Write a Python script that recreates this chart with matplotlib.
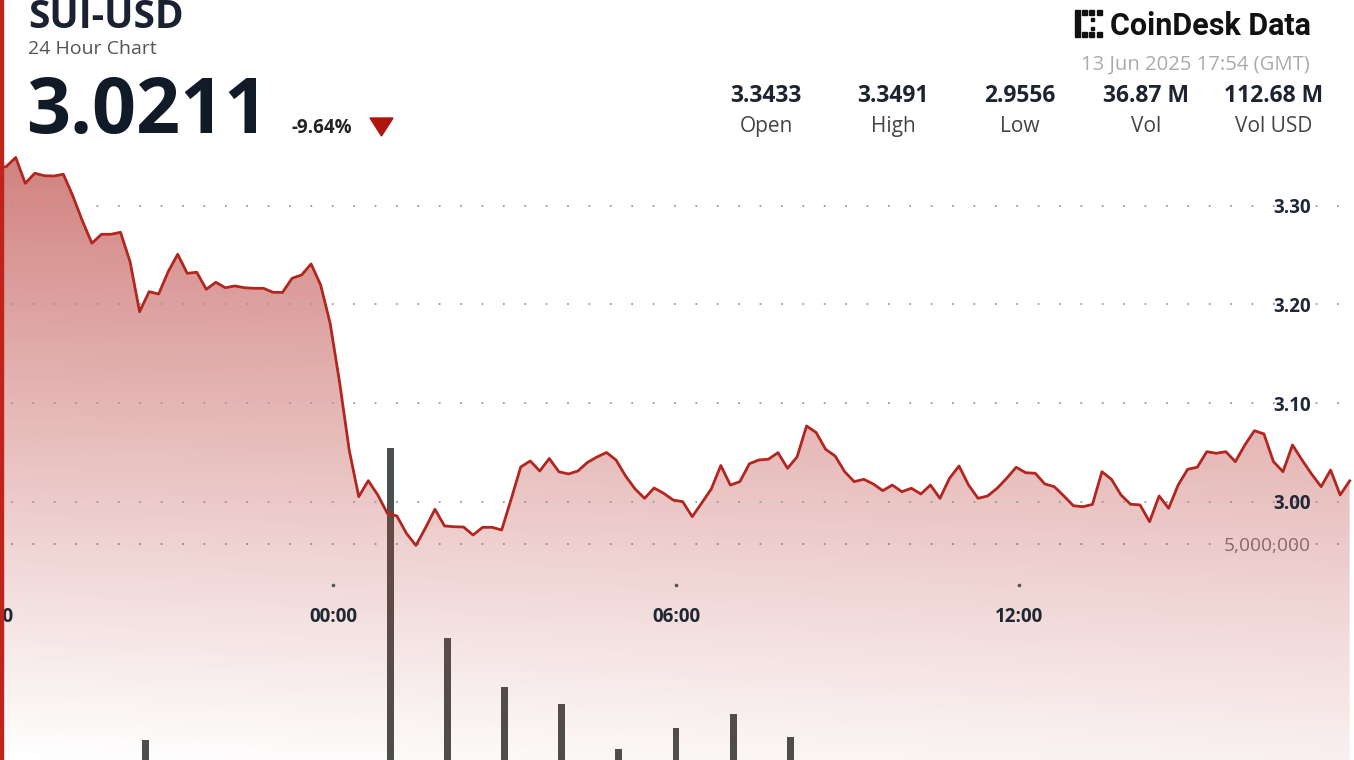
import numpy as np
import pandas as pd
import matplotlib
matplotlib.use("Agg")
import matplotlib.pyplot as plt
import matplotlib.transforms as mtransforms
from matplotlib.patches import Rectangle, Polygon
from matplotlib.ticker import FuncFormatter

W, H = 1354, 760

# header numbers
symbol = "SUI-USD"
subtitle = "24 Hour Chart"
last_price = "3.0211"
change_pct = "-9.64%"
stamp = "13 Jun 2025 17:54 (GMT)"
stat_values = ["3.3433", "3.3491", "2.9556", "36.87 M", "112.68 M"]
stat_names = ["Open", "High", "Low", "Vol", "Vol USD"]

# 10 minute closes, first one at 18:07 on 12 Jun
price_start = "2025-06-12 18:07"
prices = [
    3.3384, 3.3398, 3.3491, 3.3229, 3.3331, 3.3306, 3.3303, 3.3321, 3.3100, 3.2847,
    3.2621, 3.2712, 3.2712, 3.2732, 3.2434, 3.1927, 3.2130, 3.2106, 3.2333, 3.2509,
    3.2316, 3.2327, 3.2154, 3.2225, 3.2170, 3.2188, 3.2170, 3.2164, 3.2164, 3.2124,
    3.2122, 3.2266, 3.2299, 3.2411, 3.2198, 3.1809, 3.1204, 3.0524, 3.0051, 3.0213,
    3.0068, 2.9882, 2.9855, 2.9680, 2.9556, 2.9733, 2.9923, 2.9754, 2.9746, 2.9743,
    2.9662, 2.9740, 2.9740, 2.9713, 3.0027, 3.0352, 3.0413, 3.0311, 3.0438, 3.0304,
    3.0281, 3.0311, 3.0398, 3.0453, 3.0499, 3.0423, 3.0261, 3.0129, 3.0034, 3.0139,
    3.0085, 3.0017, 3.0000, 2.9848, 2.9987, 3.0129, 3.0367, 3.0169, 3.0203, 3.0385,
    3.0423, 3.0431, 3.0497, 3.0339, 3.0453, 3.0768, 3.0702, 3.0531, 3.0463, 3.0304,
    3.0203, 3.0227, 3.0180, 3.0112, 3.0169, 3.0101, 3.0136, 3.0078, 3.0169, 3.0034,
    3.0237, 3.0362, 3.0169, 3.0034, 3.0058, 3.0136, 3.0237, 3.0349, 3.0294, 3.0288,
    3.0180, 3.0152, 3.0058, 2.9959, 2.9949, 2.9972, 3.0304, 3.0227, 3.0068, 2.9974,
    2.9967, 2.9797, 3.0058, 2.9933, 3.0169, 3.0329, 3.0349, 3.0507, 3.0491, 3.0507,
    3.0406, 3.0575, 3.0720, 3.0687, 3.0406, 3.0304, 3.0575, 3.0423, 3.0281, 3.0152,
    3.0321, 3.0068, 3.0211,
]

# volume bars that reach into the visible area
vol_times = ["2025-06-12 20:43", "2025-06-13 01:00", "2025-06-13 02:00",
             "2025-06-13 03:00", "2025-06-13 04:00", "2025-06-13 05:00",
             "2025-06-13 06:00", "2025-06-13 07:00", "2025-06-13 08:00"]
vol_values = [2.25e6, 6.35e6, 3.68e6, 2.99e6, 2.76e6, 2.12e6, 2.42e6, 2.61e6, 2.29e6]

price_ticks = [3.00, 3.10, 3.20, 3.30]
vol_ticks = [5_000_000]
time_ticks = ["2025-06-12 18:00", "2025-06-13 00:00",
              "2025-06-13 06:00", "2025-06-13 12:00"]

midnight = pd.Timestamp("2025-06-13 00:00")


def to_hours(stamps):
    return np.asarray((pd.DatetimeIndex(stamps) - midnight) / pd.Timedelta(hours=1))


hours = to_hours(pd.date_range(price_start, periods=len(prices), freq="10min"))
vol_hours = to_hours(vol_times)
tick_hours = to_hours(time_ticks)
tick_labels = [pd.Timestamp(s).strftime("%H:%M") for s in time_ticks]

plt.rcParams['font.family'] = ['Open Sans', 'DejaVu Sans']
plt.rcParams['lines.scale_dashes'] = False

fig = plt.figure(figsize=(W / 100, H / 100), dpi=100)
fig.patch.set_facecolor('white')

# volume axis first, price axis drawn over it
axv = fig.add_axes([0, 0, 1, 1])
ax = fig.add_axes([0, 0, 1, 1], sharex=axv)
ax.patch.set_visible(False)

xlim = (-5.825, 17.859)
plim = (2.7380, 3.5088)
vlim = (1.968e6, 12.651e6)

dots = (7.5, (1.3, 14.1))

# volume
axv.bar(vol_hours, vol_values, width=0.12, color='#4a4f4b', zorder=2)
axv.set_ylim(*vlim)
axv.yaxis.tick_right()
axv.set_yticks(vol_ticks)
axv.yaxis.set_major_formatter(FuncFormatter(lambda v, p: f"{v:,.0f}"))
axv.tick_params(axis='y', length=0, pad=-31, labelsize=13.8, labelcolor='#7a7a7a')
for lab in axv.get_yticklabels():
    lab.set_ha('right')
axv.grid(axis='y', color='#9a9a9a', linewidth=1.3, linestyle=dots)
axv.grid(axis='x', visible=False)
axv.tick_params(axis='x', length=0, labelbottom=False)
for s in axv.spines.values():
    s.set_visible(False)

# price fill with vertical gradient
fill = ax.fill_between(hours, prices, plim[0], facecolor='none', edgecolor='none')
rows = np.arange(H)[:, None]
cols = np.linspace(0, 1, W)[None, :]
t = np.clip((rows - 155) / (H - 155), 0, 1)
rgba = np.zeros((H, W, 4))
rgba[..., 0] = 183 / 255
rgba[..., 1] = 58 / 255
rgba[..., 2] = 54 / 255
rgba[..., 3] = 0.64 * (1 - t) ** 1.05 + 0.08 * cols * t
img = ax.imshow(rgba, extent=(xlim[0], xlim[1], plim[0], plim[1]),
                origin='upper', aspect='auto', zorder=1, interpolation='bilinear')
img.set_clip_path(fill.get_paths()[0], transform=ax.transData)

ax.plot(hours, prices, color='#b1261f', linewidth=2.0, zorder=3,
        solid_joinstyle='round')

ax.yaxis.tick_right()
ax.set_yticks(price_ticks)
ax.yaxis.set_major_formatter(FuncFormatter(lambda v, p: f"{v:.2f}"))
ax.tick_params(axis='y', length=0, pad=-31, labelsize=13.5, labelcolor='#20283a')
for lab in ax.get_yticklabels():
    lab.set_ha('right')
    lab.set_fontweight('bold')
ax.grid(axis='y', color='#9a9a9a', linewidth=1.3, linestyle=dots, zorder=1.5)

# time labels sit inside the plot; the 18:00 one hangs off the left edge
ax.tick_params(axis='x', length=0, labelbottom=False)
blend = mtransforms.blended_transform_factory(ax.transData, ax.transAxes)
ax.plot(tick_hours, [1 - 585 / H] * len(tick_hours), linestyle='none', marker='o',
        markersize=1.6, color='#555555', transform=blend, zorder=2)
for h, lab in zip(tick_hours, tick_labels):
    ax.text(h, 1 - 617 / H, lab, transform=blend, ha='center', va='center',
            fontsize=13.5, fontweight='bold', color='#1e2833', clip_on=False)
for s in ax.spines.values():
    s.set_visible(False)

ax.set_xlim(*xlim)
ax.set_ylim(*plim)


def fx(x):
    return x / W


def fy(y):
    return 1 - y / H


# header
fig.text(fx(28), fy(28), symbol, fontsize=28, fontweight='bold', color='#1a2232')
fig.text(fx(28), fy(54), subtitle, fontsize=14, color='#555555')
fig.text(fx(26), fy(133), last_price, fontsize=55.5, fontweight='bold', color='#111a27')
fig.text(fx(292), fy(133), change_pct, fontsize=13.5, fontweight='bold', color='#222222')
fig.add_artist(Polygon([(fx(370), fy(118)), (fx(393), fy(118)), (fx(381.5), fy(136))],
                       closed=True, transform=fig.transFigure, color='#b0150d'))

# logo
fig.text(fx(1311), fy(35), "CoinDesk Data", fontsize=22, fontweight='bold',
         family='Roboto', color='#111111', ha='right')
logo = [(1075, 10, 5, 27), (1082, 10, 5, 5), (1089, 10, 5, 5), (1097, 10, 5, 5),
        (1082, 32, 5, 5), (1089, 32, 5, 5), (1097, 32, 5, 5),
        (1091, 18, 3, 3), (1091, 27, 3, 3)]
for (x, y, w, h) in logo:
    fig.add_artist(Rectangle((fx(x), fy(y + h)), w / W, h / H,
                             transform=fig.transFigure, color='#111111'))
fig.text(fx(1310), fy(70), stamp, fontsize=14.6, color='#ababab', ha='right')

stat_x = [766, 893, 1020, 1146, 1274]
for x, v, n in zip(stat_x, stat_values, stat_names):
    fig.text(fx(x), fy(102), v, fontsize=16.5, fontweight='bold', color='#1d2430', ha='center')
    fig.text(fx(x), fy(132), n, fontsize=15, color='#444444', ha='center')

# red left edge
fig.add_artist(Rectangle((0, 0), 2.5 / W, 1, transform=fig.transFigure, color='#bf231b'))

fig.savefig("out.png", dpi=100)
